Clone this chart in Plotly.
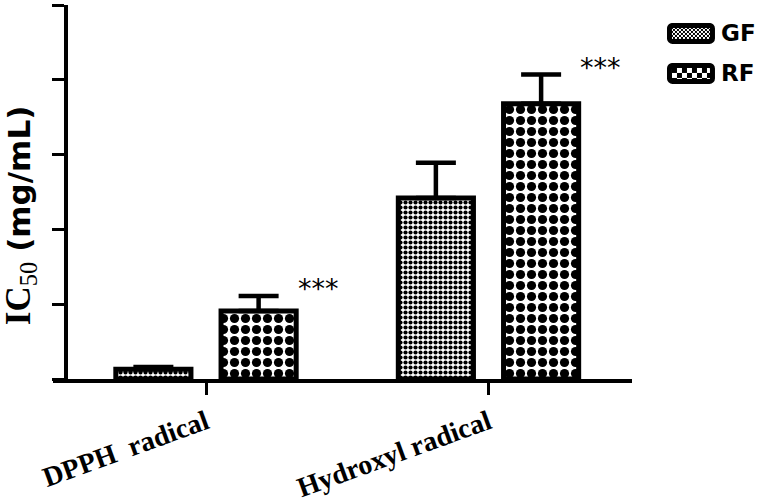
import base64
import plotly.graph_objects as go

categories = ["DPPH radical", "Hydroxyl radical"]
tick_labels = ["DPPH\u00a0 radical", "Hydroxyl radical"]
series_names = ["GF", "RF"]
gf_values = [0.13, 2.42]
gf_errors = [0.03, 0.47]
rf_values = [0.91, 3.68]
rf_errors = [0.20, 0.39]
sig_labels = ["***", "***"]

fig = go.Figure()
fig.add_trace(go.Bar(
    x=categories, y=gf_values, name=series_names[0], showlegend=False,
    marker=dict(color="white", line=dict(color="black", width=5),
                pattern=dict(shape=".", fgcolor="black", bgcolor="white",
                             size=5, solidity=0.55, fillmode="replace")),
    error_y=dict(type="data", array=gf_errors, arrayminus=[0]*len(gf_errors),
                 symmetric=False, color="black", thickness=4.5, width=20),
))
fig.add_trace(go.Bar(
    x=categories, y=rf_values, name=series_names[1], showlegend=False,
    marker=dict(color="white", line=dict(color="black", width=5),
                pattern=dict(shape=".", fgcolor="black", bgcolor="white",
                             size=11, solidity=0.55, fillmode="replace")),
    error_y=dict(type="data", array=rf_errors, arrayminus=[0]*len(rf_errors),
                 symmetric=False, color="black", thickness=4.5, width=20),
))

for i, cat in enumerate(categories):
    fig.add_annotation(x=cat, y=rf_values[i] + rf_errors[i], text=sig_labels[i],
                       showarrow=False, xshift=112, yshift=7,
                       font=dict(family="DejaVu Sans", size=27, color="black"))

fig.add_annotation(
    xref="paper", yref="paper", x=-0.056, y=0.437, textangle=-90,
    xanchor="center", yanchor="middle", showarrow=False,
    text="<span style='font-family:Liberation Serif;font-size:35px'><b>IC</b><sub>50</sub></span> <b>(mg/mL)</b>",
    font=dict(family="DejaVu Sans", size=31, color="black"),
)


def swatch(period):
    h = period / 2
    svg = (
        f"<svg xmlns='http://www.w3.org/2000/svg' width='48' height='21' viewBox='0 0 48 21'>"
        f"<defs><pattern id='p' width='{period}' height='{period}' patternUnits='userSpaceOnUse'>"
        f"<rect width='{period}' height='{period}' fill='white'/>"
        f"<rect width='{h}' height='{h}' fill='black'/>"
        f"<rect x='{h}' y='{h}' width='{h}' height='{h}' fill='black'/></pattern></defs>"
        f"<rect x='2.5' y='2.5' width='43' height='16' rx='3' fill='url(#p)' stroke='black' stroke-width='5'/>"
        f"</svg>"
    )
    return "data:image/svg+xml;base64," + base64.b64encode(svg.encode()).decode()


legend_periods = [4, 10]
legend_rows = [0.952, 0.845]
for name, period, yrow in zip(series_names, legend_periods, legend_rows):
    fig.add_layout_image(source=swatch(period), xref="paper", yref="paper",
                         x=1.0604, y=yrow, sizex=48 / 579, sizey=21 / 374,
                         xanchor="left", yanchor="top", sizing="stretch", layer="above")
    fig.add_annotation(xref="paper", yref="paper", x=1.150, y=yrow - 10.5 / 374,
                       xanchor="left", yanchor="middle", showarrow=False, text=f"<b>{name}</b>",
                       font=dict(family="DejaVu Sans", size=23, color="black"))

fig.update_layout(
    width=759, height=503,
    margin=dict(l=53, r=127, t=5, b=124, autoexpand=False),
    paper_bgcolor="white", plot_bgcolor="white",
    barmode="group", bargap=0.255, bargroupgap=0.286,
    showlegend=False,
    xaxis=dict(range=[-0.5416, 1.508], showline=True, linecolor="black", linewidth=4,
               ticks="outside", ticklen=12, tickwidth=3, tickcolor="black",
               tickmode="array", tickvals=categories, ticktext=tick_labels,
               tickangle=-20, showgrid=False, zeroline=False, automargin=False,
               tickfont=dict(family="Liberation Serif", size=28, color="black", weight="bold")),
    yaxis=dict(range=[0, 5], dtick=1, anchor="free", position=0.0225,
               showline=True, linecolor="black", linewidth=4,
               ticks="outside", ticklen=12, tickwidth=3, tickcolor="black",
               showticklabels=False, showgrid=False, zeroline=False, automargin=False),
)

fig.write_html("out.html", config={"displayModeBar": False},
               post_script="document.body.style.margin='0';document.body.style.overflow='hidden';")
